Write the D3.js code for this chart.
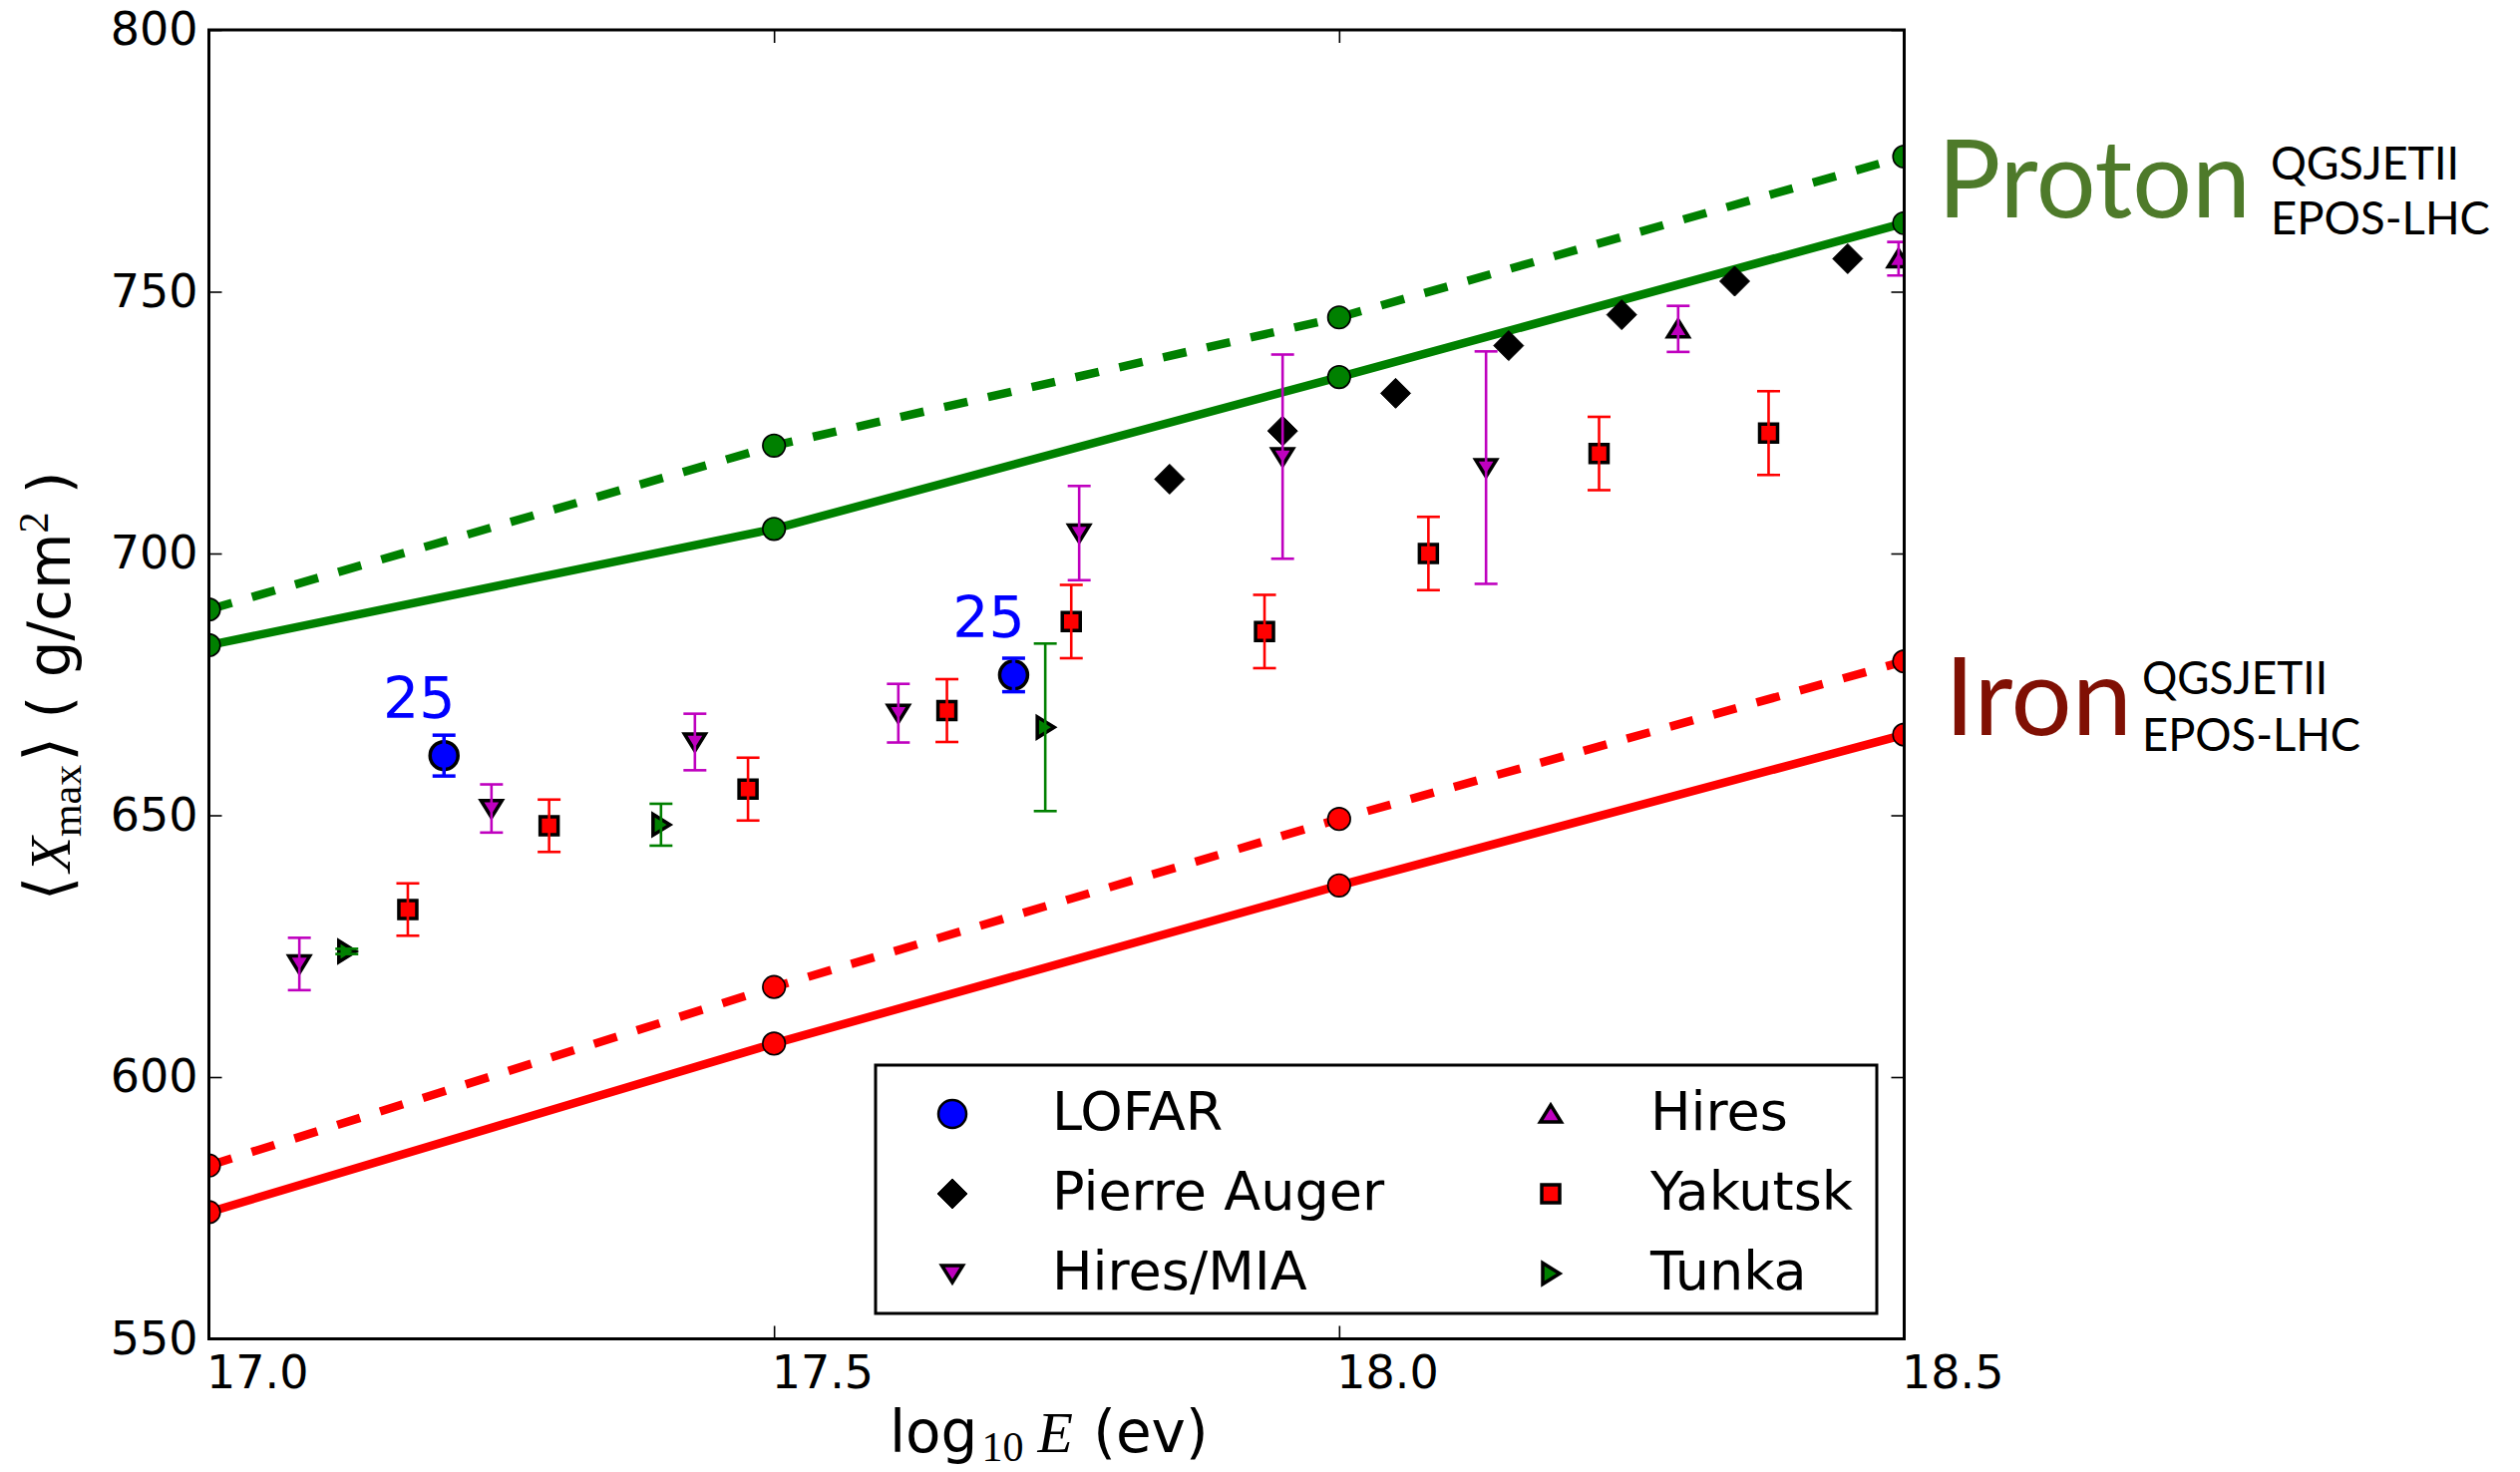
<!DOCTYPE html>
<html>
<head>
<meta charset="utf-8">
<script src="https://cdn.jsdelivr.net/npm/d3@7"></script>
<style>
  body { margin: 0; background: #fff; }
</style>
</head>
<body>
<div id="container"></div>
<script>
/* CONSTANTS AND GLOBALS */
const width = 2527,
  height = 1476,
  margin = { top: 30, bottom: 133.5, left: 209.5, right: 617.5 };

/* DATA */
const energyTicks = [17.0, 17.5, 18.0, 18.5];
const xmaxTicks = [550, 600, 650, 700, 750, 800];

// model predictions, QGSJETII dashed, EPOS-LHC solid
const modelEnergy = [17.0, 17.5, 18.0, 18.5];
const protonQGSJET = [689.3, 720.6, 745.1, 775.8];
const protonEPOS = [682.5, 704.7, 733.7, 763.1];
const ironQGSJET = [583.1, 617.2, 649.3, 679.4];
const ironEPOS = [574.2, 606.4, 636.6, 665.4];

const lofarEnergy = [17.208, 17.712];
const lofarXmax = [661.4, 676.8];
const lofarError = [3.9, 3.2];
const lofarShowers = ["25", "25"];

const augerEnergy = [17.85, 17.95, 18.05, 18.15, 18.25, 18.35, 18.45];
const augerXmax = [714.2, 723.4, 730.6, 739.7, 745.6, 752.0, 756.3];

const hiresMiaEnergy = [17.08, 17.25, 17.43, 17.61, 17.77, 17.95, 18.13];
const hiresMiaXmax = [621.6, 651.3, 664.0, 669.5, 703.9, 718.5, 716.4];
const hiresMiaError = [5.0, 4.6, 5.4, 5.6, 9.0, 19.5, 22.2];

const hiresEnergy = [18.30, 18.495];
const hiresXmax = [742.9, 756.3];
const hiresError = [4.4, 3.2];

const yakutskEnergy = [17.176, 17.301, 17.477, 17.653, 17.763, 17.934, 18.079, 18.23, 18.38];
const yakutskXmax = [632.0, 648.0, 655.0, 670.0, 687.0, 685.1, 700.0, 719.1, 723.0];
const yakutskError = [5, 5, 6, 6, 7, 7, 7, 7, 8];

const tunkaEnergy = [17.122, 17.40, 17.74];
const tunkaXmax = [624.0, 648.2, 666.8];
const tunkaError = [0.5, 4.0, 16.0];

/* TABLES BUILT FROM THE ARRAYS */
const models = [
  { color: "#ff0000", dashed: true, values: ironQGSJET },
  { color: "#ff0000", dashed: false, values: ironEPOS },
  { color: "#008000", dashed: true, values: protonQGSJET },
  { color: "#008000", dashed: false, values: protonEPOS },
];

const series = [
  { name: "LOFAR", shape: "circle", color: "#0000ff", energy: lofarEnergy, xmax: lofarXmax, error: lofarError },
  { name: "Pierre Auger", shape: "diamond", color: "#000000", energy: augerEnergy, xmax: augerXmax, error: null },
  { name: "Hires/MIA", shape: "down", color: "#bf00bf", energy: hiresMiaEnergy, xmax: hiresMiaXmax, error: hiresMiaError },
  { name: "Hires", shape: "up", color: "#bf00bf", energy: hiresEnergy, xmax: hiresXmax, error: hiresError },
  { name: "Yakutsk", shape: "square", color: "#ff0000", energy: yakutskEnergy, xmax: yakutskXmax, error: yakutskError },
  { name: "Tunka", shape: "right", color: "#008000", energy: tunkaEnergy, xmax: tunkaXmax, error: tunkaError },
];
// drawing order, lofar last so it sits on top
const drawOrder = ["Pierre Auger", "Hires/MIA", "Hires", "Yakutsk", "Tunka", "LOFAR"];

/* MARKER SHAPES */
const markerPath = shape => {
  const p = d3.path();
  if (shape === "circle") {
    p.moveTo(14, 0); p.arc(0, 0, 14, 0, 2 * Math.PI);
  } else if (shape === "square") {
    p.rect(-9, -9, 18, 18);
  } else if (shape === "diamond") {
    p.moveTo(0, -15); p.lineTo(15, 0); p.lineTo(0, 15); p.lineTo(-15, 0); p.closePath();
  } else if (shape === "down") {
    p.moveTo(-10.5, -8); p.lineTo(10.5, -8); p.lineTo(0, 9); p.closePath();
  } else if (shape === "up") {
    p.moveTo(-10.5, 8); p.lineTo(10.5, 8); p.lineTo(0, -9); p.closePath();
  } else if (shape === "right") {
    p.moveTo(-8, -10.5); p.lineTo(-8, 10.5); p.lineTo(9, 0); p.closePath();
  }
  return p.toString();
};
const markerStroke = shape => (shape === "diamond" ? 1 : 3.5);

/* SVG */
const svg = d3.select("#container")
  .append("svg")
  .attr("width", width)
  .attr("height", height);

svg.append("rect").attr("width", width).attr("height", height).attr("fill", "#fff");

// SCALES
const xScale = d3.scaleLinear().domain([17, 18.5]).range([margin.left, width - margin.right]);
const yScale = d3.scaleLinear().domain([550, 800]).range([height - margin.bottom, margin.top]);

svg.append("clipPath").attr("id", "plot-clip")
  .append("rect")
  .attr("x", margin.left)
  .attr("y", margin.top)
  .attr("width", width - margin.left - margin.right)
  .attr("height", height - margin.top - margin.bottom);

const plot = svg.append("g").attr("clip-path", "url(#plot-clip)");

// MODEL LINES
const lineGen = d3.line()
  .x((d, i) => xScale(modelEnergy[i]))
  .y(d => yScale(d));

plot.selectAll("path.model")
  .data(models)
  .join("path")
  .attr("class", "model")
  .attr("d", d => lineGen(d.values))
  .attr("fill", "none")
  .attr("stroke", d => d.color)
  .attr("stroke-width", 8.5)
  .attr("stroke-dasharray", d => (d.dashed ? "24,21" : null));

models.forEach(m => {
  plot.selectAll(null)
    .data(m.values)
    .join("circle")
    .attr("cx", (d, i) => xScale(modelEnergy[i]))
    .attr("cy", d => yScale(d))
    .attr("r", 11.3)
    .attr("fill", m.color)
    .attr("stroke", "#000")
    .attr("stroke-width", 1.6);
});

// DATA MARKERS
drawOrder.forEach(name => {
  const s = series.find(d => d.name === name);
  plot.selectAll(null)
    .data(s.energy.map((e, i) => ({ e, v: s.xmax[i] })))
    .join("path")
    .attr("d", markerPath(s.shape))
    .attr("transform", d => `translate(${xScale(d.e)},${yScale(d.v)})`)
    .attr("fill", s.color)
    .attr("stroke", "#000")
    .attr("stroke-width", markerStroke(s.shape))
    .attr("stroke-linejoin", "miter");
});

// ERROR BARS (drawn over the markers)
drawOrder.forEach(name => {
  const s = series.find(d => d.name === name);
  if (!s.error) return;
  const pts = s.energy.map((e, i) => ({ e, v: s.xmax[i], err: s.error[i] }));
  const g = plot.append("g")
    .attr("stroke", s.color)
    .attr("stroke-width", s.name === "LOFAR" ? 3.5 : 2.6);
  g.selectAll("line.bar").data(pts).join("line")
    .attr("x1", d => xScale(d.e)).attr("x2", d => xScale(d.e))
    .attr("y1", d => yScale(d.v - d.err)).attr("y2", d => yScale(d.v + d.err));
  [-1, 1].forEach(sign => {
    g.selectAll(null).data(pts).join("line")
      .attr("x1", d => xScale(d.e) - 11.5).attr("x2", d => xScale(d.e) + 11.5)
      .attr("y1", d => yScale(d.v + sign * d.err)).attr("y2", d => yScale(d.v + sign * d.err));
  });
});

// LOFAR SHOWER COUNTS
svg.selectAll("text.count")
  .data(lofarShowers)
  .join("text")
  .attr("class", "count")
  .attr("x", (d, i) => xScale(lofarEnergy[i]) - 25)
  .attr("y", (d, i) => yScale(lofarXmax[i]) - 38)
  .attr("text-anchor", "middle")
  .attr("font-family", "DejaVu Sans")
  .attr("font-size", 57)
  .attr("fill", "#0000ff")
  .text(d => d);

// AXES
const tickFont = g => g.attr("font-family", "DejaVu Sans").attr("font-size", 46)
  .call(g => g.select(".domain").remove())
  .call(g => g.selectAll(".tick line").attr("stroke", "#000").attr("stroke-width", 1.6))
  .call(g => g.selectAll("text").attr("fill", "#000"));

svg.append("g")
  .attr("transform", `translate(0,${height - margin.bottom})`)
  .call(d3.axisBottom(xScale).tickValues(energyTicks).tickFormat(d3.format(".1f"))
    .tickSizeInner(-13).tickSizeOuter(0).tickPadding(17))
  .call(tickFont)
  .call(g => g.selectAll("text").attr("text-anchor", "start").attr("dx", -3));

svg.append("g")
  .attr("transform", `translate(0,${margin.top})`)
  .call(d3.axisTop(xScale).tickValues(energyTicks).tickFormat("").tickSizeInner(-13).tickSizeOuter(0))
  .call(tickFont);

svg.append("g")
  .attr("transform", `translate(${margin.left},0)`)
  .call(d3.axisLeft(yScale).tickValues(xmaxTicks).tickFormat(d3.format("d"))
    .tickSizeInner(-13).tickSizeOuter(0).tickPadding(11))
  .call(tickFont);

svg.append("g")
  .attr("transform", `translate(${width - margin.right},0)`)
  .call(d3.axisRight(yScale).tickValues(xmaxTicks).tickFormat("").tickSizeInner(-13).tickSizeOuter(0))
  .call(tickFont);

// FRAME
svg.append("rect")
  .attr("x", margin.left)
  .attr("y", margin.top)
  .attr("width", width - margin.left - margin.right)
  .attr("height", height - margin.top - margin.bottom)
  .attr("fill", "none")
  .attr("stroke", "#000")
  .attr("stroke-width", 3);

// AXIS TITLES
const xTitle = svg.append("text")
  .attr("x", 892)
  .attr("y", 1456)
  .attr("font-family", "DejaVu Sans")
  .attr("font-size", 58)
  .attr("fill", "#000");
xTitle.append("tspan").text("log");
xTitle.append("tspan").attr("font-family", "Liberation Serif").attr("font-size", 42)
  .attr("dx", 4).attr("dy", 9).text("10");
xTitle.append("tspan").attr("font-family", "Liberation Serif").attr("font-style", "italic")
  .attr("dx", 14).attr("dy", -9).text("E");
xTitle.append("tspan").attr("dx", 2).text(" (ev)");

const yTitle = svg.append("text")
  .attr("transform", "translate(70,688) rotate(-90)")
  .attr("text-anchor", "middle")
  .attr("font-family", "DejaVu Sans")
  .attr("font-size", 58)
  .attr("fill", "#000");
yTitle.append("tspan").attr("font-family", "DejaVu Serif").attr("font-size", 64).attr("font-weight", 200).text("\u27E8");
yTitle.append("tspan").attr("font-family", "Liberation Serif").attr("font-style", "italic").attr("dx", 4).text("X");
yTitle.append("tspan").attr("font-family", "Liberation Serif").attr("font-size", 42).attr("dy", 11).text("max");
yTitle.append("tspan").attr("font-family", "DejaVu Serif").attr("font-size", 64).attr("font-weight", 200).attr("dx", 3).attr("dy", -11).text("\u27E9");
yTitle.append("tspan").text(" ( g/cm");
yTitle.append("tspan").attr("font-family", "Liberation Serif").attr("font-size", 42).attr("dy", -22).text("2");
yTitle.append("tspan").attr("dy", 22).text(" )");

// LEGEND
svg.append("rect")
  .attr("x", 878)
  .attr("y", 1068)
  .attr("width", 1004)
  .attr("height", 249)
  .attr("fill", "#fff")
  .attr("stroke", "#000")
  .attr("stroke-width", 3);

const legendItems = svg.selectAll("g.legend-item")
  .data(series)
  .join("g")
  .attr("class", "legend-item")
  .attr("transform", (d, i) => `translate(${i < 3 ? 955 : 1555},${1117 + (i % 3) * 80})`);

legendItems.append("path")
  .attr("d", d => markerPath(d.shape))
  .attr("fill", d => d.color)
  .attr("stroke", "#000")
  .attr("stroke-width", d => (d.shape === "circle" ? 2.5 : markerStroke(d.shape)));

legendItems.append("text")
  .attr("x", 100)
  .attr("y", 16)
  .attr("font-family", "DejaVu Sans")
  .attr("font-size", 54)
  .attr("fill", "#000")
  .text(d => d.name);

// COMPOSITION LABELS
const addLabel = (name, color, x, yBase, nameLen, yQ, yE, xSub, lenQ, lenE) => {
  svg.append("text")
    .attr("x", x).attr("y", yBase)
    .attr("font-family", "Lato")
    .attr("font-size", 109)
    .attr("fill", color)
    .attr("textLength", nameLen)
    .attr("lengthAdjust", "spacingAndGlyphs")
    .text(name);
  svg.append("text")
    .attr("x", xSub).attr("y", yQ)
    .attr("font-family", "Lato").attr("font-size", 46).attr("fill", "#000")
    .attr("textLength", lenQ).attr("lengthAdjust", "spacingAndGlyphs")
    .text("QGSJETII");
  svg.append("text")
    .attr("x", xSub).attr("y", yE)
    .attr("font-family", "Lato").attr("font-size", 46).attr("fill", "#000")
    .attr("textLength", lenE).attr("lengthAdjust", "spacingAndGlyphs")
    .text("EPOS-LHC");
};
addLabel("Proton", "#4e7a2a", 1943, 218, 314, 180, 235, 2277, 189, 220);
addLabel("Iron", "#801004", 1950, 737, 188, 696, 753, 2148, 186, 219);
</script>
</body>
</html>
